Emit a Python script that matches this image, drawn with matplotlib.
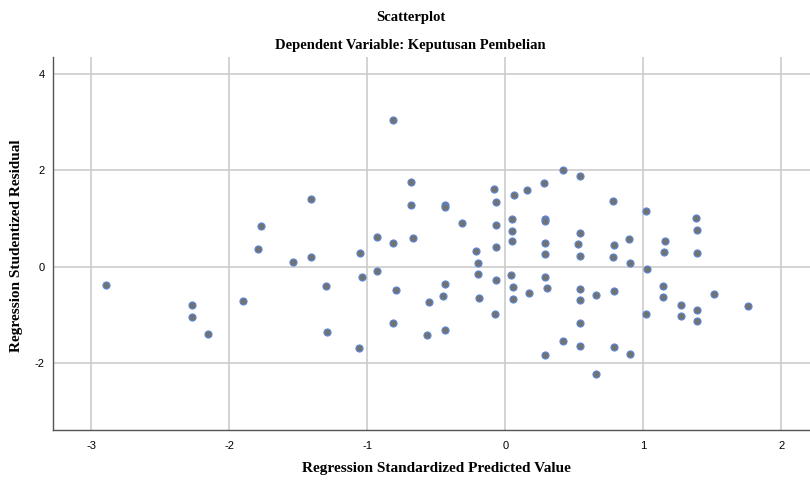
import matplotlib.pyplot as plt

plt.rcParams["axes.unicode_minus"] = False

# Standardized predicted values (x) and studentized residuals (y)
pred = [-2.89, -2.27, -2.27, -2.15, -1.90, -1.77, -1.79, -1.54, -1.41, -1.41,
        -1.30, -1.29, -1.06, -1.05, -1.04, -0.93, -0.93, -0.81, -0.81, -0.79,
        -0.81, -0.68, -0.68, -0.67, -0.55, -0.57, -0.44, -0.44, -0.44, -0.45,
        -0.44, -0.31, -0.21, -0.20, -0.20, -0.19, -0.08, -0.07, -0.07, -0.07,
        -0.07, -0.075, 0.06, 0.046, 0.048, 0.05, 0.04, 0.058, 0.056, 0.16,
        0.17, 0.28, 0.29, 0.29, 0.29, 0.29, 0.29, 0.30, 0.29, 0.415,
        0.54, 0.42, 0.54, 0.53, 0.54, 0.54, 0.54, 0.54, 0.54, 0.66,
        0.66, 0.78, 0.79, 0.78, 0.785, 0.785, 0.896, 0.90, 0.90, 1.02,
        1.03, 1.02, 1.155, 1.15, 1.145, 1.145, 1.275, 1.27, 1.38, 1.39,
        1.39, 1.39, 1.39, 1.51, 1.76]
resid = [-0.375, -0.79, -1.03, -1.40, -0.71, 0.84, 0.37, 0.10, 1.41, 0.20,
         -0.40, -1.34, -1.69, 0.28, -0.20, 0.62, -0.08, 3.05, 0.49, -0.48,
         -1.16, 1.76, 1.29, 0.60, -0.72, -1.41, 1.29, 1.25, -0.35, -0.60,
         -1.30, 0.91, 0.33, 0.08, -0.15, -0.64, 1.61, 1.34, 0.875, 0.41,
         -0.28, -0.98, 1.49, 0.99, 0.75, 0.535, -0.17, -0.42, -0.67, 1.59,
         -0.535, 1.73, 1.00, 0.96, 0.50, 0.26, -0.21, -0.44, -1.83, 2.00,
         1.88, -1.53, 0.71, 0.48, 0.235, -0.46, -0.69, -1.16, -1.64, -0.59,
         -2.21, 1.375, 0.45, 0.215, -0.49, -1.65, 0.57, 0.09, -1.81, 1.15,
         -0.04, -0.98, 0.53, 0.30, -0.40, -0.63, -0.78, -1.01, 1.01, 0.76,
         0.28, -0.90, -1.13, -0.56, -0.82]

xticks = [-3, -2, -1, 0, 1, 2]
yticks = [-2, 0, 2, 4]

serif = ["Liberation Serif", "DejaVu Serif"]
sans = ["Liberation Sans", "DejaVu Sans"]

fig = plt.figure(figsize=(8.1, 4.8), dpi=100)
ax = fig.add_axes([53 / 810, 50 / 480, 757 / 810, 373 / 480])

ax.scatter(pred, resid, s=26, c="#727272", edgecolors="#5b87d6",
           linewidths=0.8, zorder=3)

ax.set_xlim(-3.276, 2.207)
ax.set_ylim(-3.38, 4.35)
ax.set_xticks(xticks)
ax.set_yticks(yticks)
ax.grid(True, color="#cccccc", linewidth=1.2, zorder=0)
ax.set_axisbelow(True)
ax.tick_params(length=0, labelsize=8)
ax.tick_params(axis="y", pad=6)
ax.tick_params(axis="x", pad=8)
for lab in ax.get_xticklabels() + ax.get_yticklabels():
    lab.set_family(sans)

for side in ["top", "right"]:
    ax.spines[side].set_visible(False)
for side in ["left", "bottom"]:
    ax.spines[side].set_color("#555555")
    ax.spines[side].set_linewidth(1.0)

ax.set_xlabel("Regression Standardized Predicted Value", family=serif,
              fontweight="bold", fontsize=11, va="center")
ax.set_ylabel("Regression Studentized Residual", family=serif,
              fontweight="bold", fontsize=11, va="center")
ax.xaxis.set_label_coords(0.506, -0.102)
ax.yaxis.set_label_coords(-0.0476, 0.493)

fig.text(0.507, 1 - 17 / 480, "Scatterplot", family=serif, fontweight="bold",
         fontsize=10.5, ha="center", va="center")
fig.text(0.507, 1 - 45 / 480, "Dependent Variable: Keputusan Pembelian",
         family=serif, fontweight="bold", fontsize=10.5, ha="center",
         va="center")

fig.savefig("out.png", dpi=100)
